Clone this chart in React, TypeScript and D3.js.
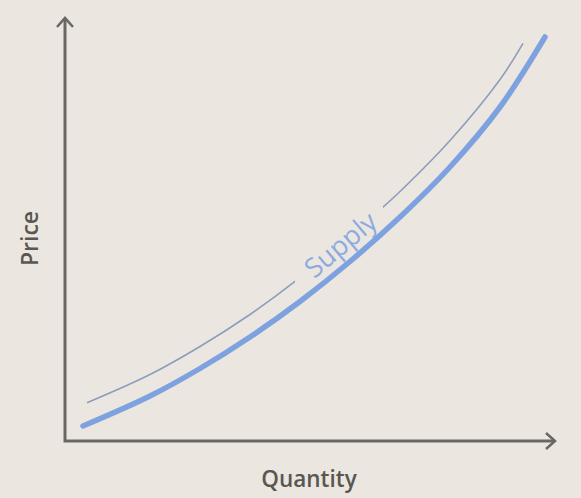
import React from "react";
import * as d3 from "d3";

const W = 581;
const H = 498;

// Supply curve (thick) — quantity / price in chart units 0..100
const supplyQ = [3.67, 17.35, 27.55, 37.76, 47.96, 58.16, 68.37, 78.57, 88.78, 97.96];
const supplyP = [3.55, 10.64, 17.14, 24.59, 32.98, 42.43, 52.96, 64.78, 78.96, 95.51];

// Thin companion curve (broken where the label sits)
const thinQ = [4.49, 17.35, 27.55, 37.76, 46.94, 64.9, 68.37, 78.57, 88.78, 93.47];
const thinP = [9.05, 15.72, 22.34, 29.91, 37.71, 55.3, 58.98, 71.04, 85.46, 94.0];
const thinGap = [46.94, 64.9];

const xLabel = "Quantity";
const yLabel = "Price";
const curveLabel = "Supply";

export default function App() {
  const x0 = 65, x1 = 555, y0 = 441, y1 = 18;
  const x = d3.scaleLinear().domain([0, 100]).range([x0, x1]);
  const y = d3.scaleLinear().domain([0, 100]).range([y0, y1]);

  const supply = supplyQ.map((q, i) => [q, supplyP[i]] as [number, number]);
  const thin = thinQ.map((q, i) => [q, thinP[i]] as [number, number]);

  const line = d3
    .line<[number, number]>()
    .x((d) => x(d[0]))
    .y((d) => y(d[1]))
    .curve(d3.curveCatmullRom.alpha(0.5));

  const labelQ = 56.1;
  const labelP = 46.6;
  const axisColor = "#6a6662";
  const font = "'Open Sans', 'Noto Sans', sans-serif";

  return (
    <div style={{ position: "fixed", left: 0, top: 0, width: W, height: H }}>
      <svg width={W} height={H} style={{ display: "block" }}>
        <defs>
          <clipPath id="thinClip">
            <rect x={0} y={0} width={x(thinGap[0])} height={H} />
            <rect x={x(thinGap[1])} y={0} width={W - x(thinGap[1])} height={H} />
          </clipPath>
        </defs>
        <rect x={0} y={0} width={W} height={H} fill="#ebe7e0" />
        {/* axes */}
        <path
          d={`M${x0},${y1} L${x0},${y0} L${x1},${y0}`}
          fill="none"
          stroke={axisColor}
          strokeWidth={3}
        />
        <path
          d={`M${x0 - 8},${y1 + 9} L${x0},${y1} L${x0 + 8},${y1 + 9}`}
          fill="none"
          stroke={axisColor}
          strokeWidth={2.5}
        />
        <path
          d={`M${x1 - 9},${y0 - 8} L${x1},${y0} L${x1 - 9},${y0 + 8}`}
          fill="none"
          stroke={axisColor}
          strokeWidth={2.5}
        />
        {/* thin curve */}
        <path
          d={line(thin) || ""}
          fill="none"
          stroke="#8d9dbd"
          strokeWidth={1.6}
          clipPath="url(#thinClip)"
        />
        {/* thick supply curve */}
        <path
          d={line(supply) || ""}
          fill="none"
          stroke="#7ea2e0"
          strokeWidth={5.5}
          strokeLinecap="round"
        />
        {/* curve label */}
        <text
          x={x(labelQ)}
          y={y(labelP)}
          transform={`rotate(-40, ${x(labelQ)}, ${y(labelP)})`}
          textAnchor="middle"
          dominantBaseline="central"
          fontFamily={font}
          fontSize={27}
          fill="#8eabe0"
        >
          {curveLabel}
        </text>
        {/* axis titles */}
        <text
          x={309}
          y={487}
          textAnchor="middle"
          fontFamily={font}
          fontWeight={600}
          fontSize={22.5}
          fill="#5a5652"
        >
          {xLabel}
        </text>
        <text
          transform={`translate(38, 238.5) rotate(-90)`}
          textAnchor="middle"
          fontFamily={font}
          fontWeight={600}
          fontSize={23}
          fill="#5a5652"
        >
          {yLabel}
        </text>
      </svg>
    </div>
  );
}
